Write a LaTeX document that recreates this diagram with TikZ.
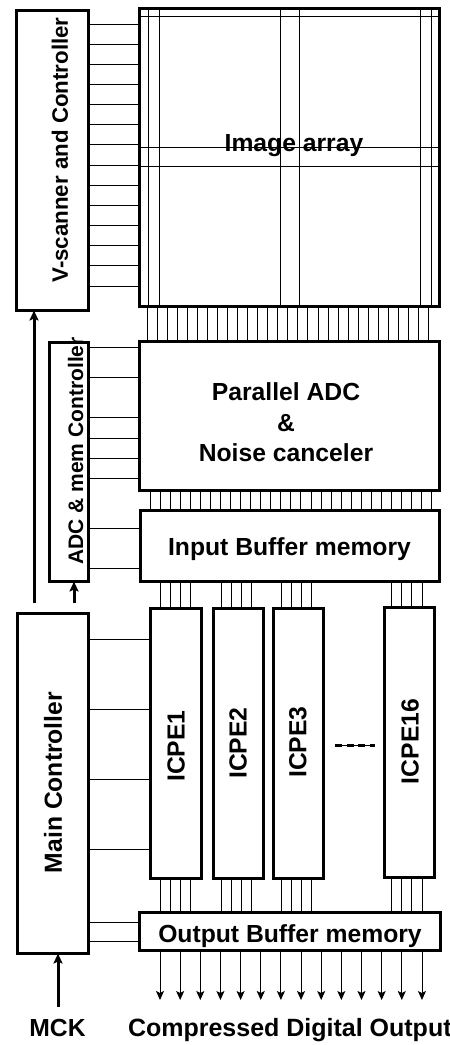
\documentclass[tikz,border=0pt]{standalone}
\usepackage{fontspec}
\setmainfont{Liberation Sans}
\usetikzlibrary{arrows.meta}
\begin{document}
\begin{tikzpicture}[x=1pt,y=-1pt,
  blk/.style={draw, line width=3pt, inner sep=0pt, outer sep=0pt},
  arrblk/.style={draw, line width=2.5pt, inner sep=0pt, outer sep=0pt},
  wire/.style={line width=0.9pt},
  bigarrow/.style={line width=3pt, -{Stealth[length=10pt,width=9pt,inset=2pt]}},
  outarrow/.style={line width=0.9pt, -{Stealth[length=9pt,width=8pt,inset=2pt]}},
  txt/.style={font=\bfseries\fontsize{24.7}{30.5}\selectfont, inner sep=0pt, outer sep=0pt},
  rtxt/.style={txt, rotate=90}]
\useasboundingbox (0,0) rectangle (450,1045);
\clip (0,0) rectangle (450,1045);

% ---------- blocks ----------
\node[blk, minimum width=72pt, minimum height=300pt] (vs) at (52.5,160.5) {};
\node[arrblk, minimum width=300pt, minimum height=298pt] (ia) at (289.5,157.5) {};
\node[blk, minimum width=300pt, minimum height=149pt] (adc) at (289.5,416) {};
\node[blk, minimum width=299.5pt, minimum height=71pt] (ib) at (289.75,546) {};
\node[blk, minimum width=39pt, minimum height=239pt] (ac) at (69,462) {};
\node[blk, minimum width=71pt, minimum height=340pt] (mc) at (53,783.5) {};
\node[blk, minimum width=51pt, minimum height=270pt] (p1) at (176,743.5) {};
\node[blk, minimum width=50pt, minimum height=270pt] (p2) at (238,743.5) {};
\node[blk, minimum width=50pt, minimum height=270pt] (p3) at (298.3,743) {};
\node[blk, minimum width=50pt, minimum height=270pt] (p16) at (409.5,742) {};
\node[blk, minimum width=301pt, minimum height=38pt] (ob) at (290,931.5) {};

% ---------- image array grid ----------
\foreach \xx in {148,159,280,299,420,431}
  \draw[wire] (ia.north -| \xx,0) -- (ia.south -| \xx,0);
\foreach \yy in {16,147,166}
  \draw[wire] (ia.west |- 0,\yy) -- (ia.east |- 0,\yy);

% ---------- V-scanner rows ----------
\foreach \k [evaluate=\k as \yy using 24+20.15*\k] in {0,...,13}
  \draw[wire] (vs.east |- 0,\yy) -- (ia.west |- 0,\yy);

% ---------- column buses ----------
\foreach \k [evaluate=\k as \xx using 147.3+10.04*\k] in {0,...,28}
  \draw[wire] (ia.south -| \xx,0) -- (adc.north -| \xx,0);
\foreach \k [evaluate=\k as \xx using 150+10.06*\k] in {0,...,28}
  \draw[wire] (adc.south -| \xx,0) -- (ib.north -| \xx,0);

% ---------- ADC & mem controller wires ----------
\foreach \yy in {347,377,417,438,458,478}
  \draw[wire] (ac.east |- 0,\yy) -- (adc.west |- 0,\yy);
\foreach \yy in {528,568}
  \draw[wire] (ac.east |- 0,\yy) -- (ib.west |- 0,\yy);

% ---------- ICPE buses ----------
\foreach \xx in {160,170,180,190} {
  \draw[wire] (ib.south -| \xx,0) -- (p1.north -| \xx,0);
  \draw[wire] (p1.south -| \xx,0) -- (ob.north -| \xx,0);}
\foreach \xx in {221,231,241,251} {
  \draw[wire] (ib.south -| \xx,0) -- (p2.north -| \xx,0);
  \draw[wire] (p2.south -| \xx,0) -- (ob.north -| \xx,0);}
\foreach \xx in {281,291.5,301.5,311.5} {
  \draw[wire] (ib.south -| \xx,0) -- (p3.north -| \xx,0);
  \draw[wire] (p3.south -| \xx,0) -- (ob.north -| \xx,0);}
\foreach \xx in {391.5,401.5,411.5,422} {
  \draw[wire] (ib.south -| \xx,0) -- (p16.north -| \xx,0);
  \draw[wire] (p16.south -| \xx,0) -- (ob.north -| \xx,0);}

% ---------- main controller wires ----------
\foreach \yy in {639,709,779,849}
  \draw[wire] (mc.east |- 0,\yy) -- (p1.west |- 0,\yy);
\foreach \yy in {922,941}
  \draw[wire] (mc.east |- 0,\yy) -- (ob.west |- 0,\yy);

% ---------- dots between ICPE3 and ICPE16 ----------
\coordinate (d1) at (335,745);
\coordinate (d2) at (375,745);
\draw[wire] (d1) -- (d2);
\draw[line width=3pt, dash pattern=on 7pt off 4.5pt] (d1) -- (d2);

% ---------- control arrows ----------
\coordinate (m1) at (34,603);
\coordinate (m2) at (74,603);
\coordinate (mck) at (58,1007);
\draw[bigarrow] (m1) -- (vs.south -| m1);
\draw[bigarrow] (m2) -- (ac.south -| m2);
\draw[bigarrow] (mck) -- (mc.south -| mck);

% ---------- outputs ----------
\foreach \k [evaluate=\k as \xx using 160+20.15*\k] in {0,...,13} {
  \coordinate (o\k) at (\xx,1000);
  \draw[outarrow] (ob.south -| o\k) -- (o\k);}

% ---------- labels ----------
\node[txt, anchor=base] (tia) at (294,151) {Image array};
\node[txt, align=center] (tadc) at (286,422.5) {Parallel ADC\\\&\\Noise canceler};
\node[txt, anchor=base] (tib) at (289.5,555) {Input Buffer memory};
\node[txt, anchor=base] (tob) at (290,942) {Output Buffer memory};
\node[rtxt, font=\bfseries\fontsize{22.3}{26}\selectfont] (tvs) at (60,150) {V-scanner and Controller};
\node[rtxt, font=\bfseries\fontsize{21}{25}\selectfont] (tac) at (75.5,451) {ADC \& mem Controller};
\node[rtxt] (tmc) at (53,782.5) {Main Controller};
\node[rtxt] (tp1) at (176,746) {ICPE1};
\node[rtxt] (tp2) at (238,743) {ICPE2};
\node[rtxt] (tp3) at (298,742) {ICPE3};
\node[rtxt] (tp16) at (410,741.5) {ICPE16};
\node[txt, anchor=base] (tmck) at (57.5,1036) {MCK};
\node[txt, anchor=base west, font=\bfseries\fontsize{25}{30}\selectfont] (tout) at (128,1036) {Compressed Digital Output};
\end{tikzpicture}
\end{document}
